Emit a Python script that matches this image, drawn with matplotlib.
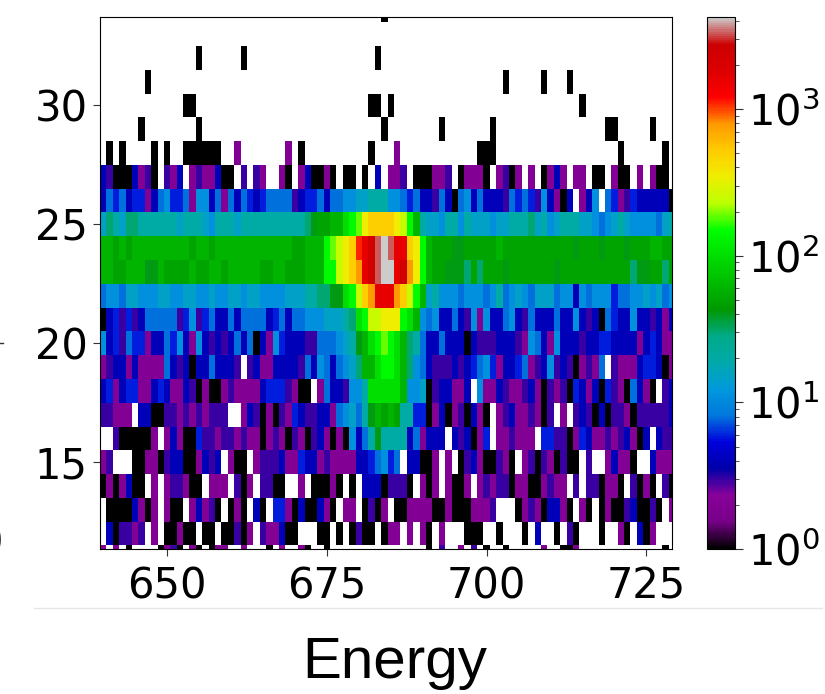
"""Recreate the energy map: log colour scale, one row of cells per integer y."""

import numpy as np
import matplotlib
matplotlib.use("Agg")
import matplotlib.pyplot as plt
from matplotlib.colors import LogNorm
from matplotlib.lines import Line2D

# counts per colour step
LEVELS = {
    ".": 0, "k": 1, "p": 2, "i": 3, "b": 4, "B": 6, "c": 8, "C": 11,
    "t": 15, "T": 20, "g": 30, "G": 40, "h": 50, "H": 60, "l": 100,
    "L": 140, "m": 190, "y": 250, "Y": 350, "o": 500, "O": 800,
    "r": 1100, "R": 1600, "d": 2500, "D": 3300, "W": 4200,
}

ENERGY_START = 640
Y_VALUES = list(range(34, 10, -1))
X_TICKS = [650, 675, 700, 725]
Y_TICKS = [15, 20, 25, 30]
CBAR_MAX = 4250

# one line per y value, top row first, 90 cells in groups of ten
ROWS = [
    ".......... .......... .......... .......... ....k..... .......... .......... .......... ..........",
    ".......... .......... .......... .......... .......... .......... .......... .......... ..........",
    ".......... .....k.... ..k....... .......... ...k...... .......... .......... .......... ..........",
    ".......k.. .......... .......... .......... .......... .......... ...k.....k ...k...... ..........",
    ".......... ...kk..... .......... .......... ..kk.k.... .......... .......... .....k.... ..........",
    "......k... .....k.... .......... .......... ....k..... ...k...... .k........ .........k k.....k...",
    ".k.k....k. k..kkkkkk. .p.......p .k........ ..k...p... .........k kk........ .......... .k......k.",
    "bikkkbpik. ipb.pippbk k.i.ip..pk .pbkkpk.kk .k.b.ppi.k kkppi.kppp k.pikp.p.k pbp.pp.kk. pkk.p.pkk.",
    "bcBcbBBpbc CBBcpCCbcp cbcBbBcccc ibBBcbccCC ttTTTCCcBc bbicbkcCbc bbbicBcBiC bpkb.pbC.c BpiBbbbbbk",
    "tgTtggTTTT TTtTTTtCTT TtTTTTTTTT TTgGhhHHlL mYooooYyLH TttCTTCTtt tCttTTTgtT CtTTTttCcC tTtCCCCctT",
    "HHhHhHHHHH HHHHhHHhHH HHHHHHHHHH hhHHHLmyYo rRdDWDRRoY LHhhhGGhhh hhHhhhhhhh hhhhGhhhGh hhGhhhHHhh",
    "HHhhHHHGGH hhhhHhhHHh HHHHHhhHHh hhHHHLLyYo ORdDWWRdOY LHhhGGGghg hhhGhhhhhh hGhhhhhhhh hhhgGGhhgh",
    "cCCcttCCCt tCCttCCtCC ttCttCCCCt ttTTggGGlL yoORRROoyL HtTCCCcCCC cCTcCtCctt tcCCbCcCCC BccCCtCtcC",
    "kbBiBibccc cciBCiBcbb cbccccbBcb ccCCCtttTg lLyyYYYLlH CcCbbcbiCp CbbcCbicbb bcbbCbibkc BbbCbbibpb",
    "CbBicBBpbb cBCbpCbibi bcbckbpCBb bbiicccCtT GHlLmLlHgT cbbcbbbkbi iibbbipCcb pCbbbibbBB bbbbpbBbpp",
    "pibbpbpppp cbibkbbcbb bi.ibppbbb bicbCcbcCt gHHlLLlHgC cbiiibibBc CBpbbBcpib Cibikpipc. ipppbBBbkp",
    "bBpbBBppbB bppbikpkkp ippppbBBBi pkk.pcbbiC CTlllllHCC tkibbppb.C ppbippibpk ipikBbpbkB ipkcbpk.ib",
    "iippp.bbkk iipipipiii ..pbikpkip BbiibbpcCt cTGHhHhTTB Bkpbkpikbp k.pibppipk i.p.ibikbk iipkiiiiib",
    "..ikkkkkp. pbpkkBiipi ipippkpipk ipkibpkpkC bcTGTTTTbc pbbb.bibkp B.ppippp.B BiikpBbppi pibpkb.bii",
    "pi...kkppk ibbkkpbib. pkk.piiibp pBbbpipppp bbBcCBc.bb kkp.p.kibp kkipk.piki pkikk.i..p bppk..bppp",
    "kpkpbkk.p. piipkk.ppp .ikp.iikk. .p.kkkpk.k .bbbkiiik. pkp.pkkp.p ipiikppkkp ipp.i.iikp pk.ikpk.ik",
    ".kkkkbpkp. pkk.pbpik. kpk.bk.BBp kbkkbpk.pp .kikp.kkpp ppkkpkkkpp pi...kpipk bbpk.pk.kp kkibkkik.p",
    ".bkiipi.p. kkpkk.kk.k kikp.ippbk k...kk.k.k ikk.kpp.p. pk.p...kkk ..k...k.b. .k.ik...k. .pk.bkp...",
    "p.p.k....k pik.pk.kpp ..p...k.p. .pk..k.... .......... .k.i..p.i. k..k.....p ..kkp..... ........k.",
]


def rows_to_counts(rows: list[str]) -> np.ndarray:
    """Turn the coded rows into a count matrix with empty cells masked."""
    counts = [[LEVELS[c] for c in row.replace(" ", "")] for row in rows]
    return np.ma.masked_equal(np.array(counts, dtype=float), 0)


def main() -> None:
    counts = rows_to_counts(ROWS)
    x_edges = np.arange(counts.shape[1] + 1) + ENERGY_START - 0.5
    y_edges = np.array(Y_VALUES + [Y_VALUES[-1] - 1], dtype=float) + 0.5

    fig = plt.figure(figsize=(8.25, 6.94), dpi=100)
    ax = fig.add_axes([100 / 825, 145 / 694, 572 / 825, 532 / 694])
    cax = fig.add_axes([707 / 825, 145 / 694, 28 / 825, 532 / 694])

    mesh = ax.pcolormesh(x_edges, y_edges, counts, cmap="nipy_spectral",
                         norm=LogNorm(vmin=1, vmax=CBAR_MAX))
    ax.set_xlim(639.5, 729)
    ax.set_ylim(11.35, 33.72)
    ax.set_xticks(X_TICKS)
    ax.set_yticks(Y_TICKS)
    ax.tick_params(labelsize=30, length=5, color="#333333", pad=4)
    ax.tick_params(axis="x", pad=7)

    cbar = fig.colorbar(mesh, cax=cax)
    cbar.ax.tick_params(labelsize=30, length=6, color="#333333", pad=3)
    cbar.ax.tick_params(which="minor", length=3, color="#333333")

    fig.add_artist(Line2D([34 / 825, 822 / 825], [86 / 694, 86 / 694],
                          color="#e6e6e6", linewidth=1))
    fig.text(395 / 825, 31 / 694, "Energy", family="Liberation Sans",
             fontsize=42, ha="center", va="center")

    # scraps of the neighbouring panel's tick labels cut off by the crop
    fig.text(3 / 825, 571 / 694, "2", fontsize=30, ha="right", va="center")
    fig.text(3 / 825, 151 / 694, "0", fontsize=30, ha="right", va="center")
    fig.add_artist(Line2D([0, 3 / 825], [351 / 694, 351 / 694],
                          color="#333333", linewidth=1))

    fig.savefig("out.png", dpi=100)
    plt.close(fig)


if __name__ == "__main__":
    main()
